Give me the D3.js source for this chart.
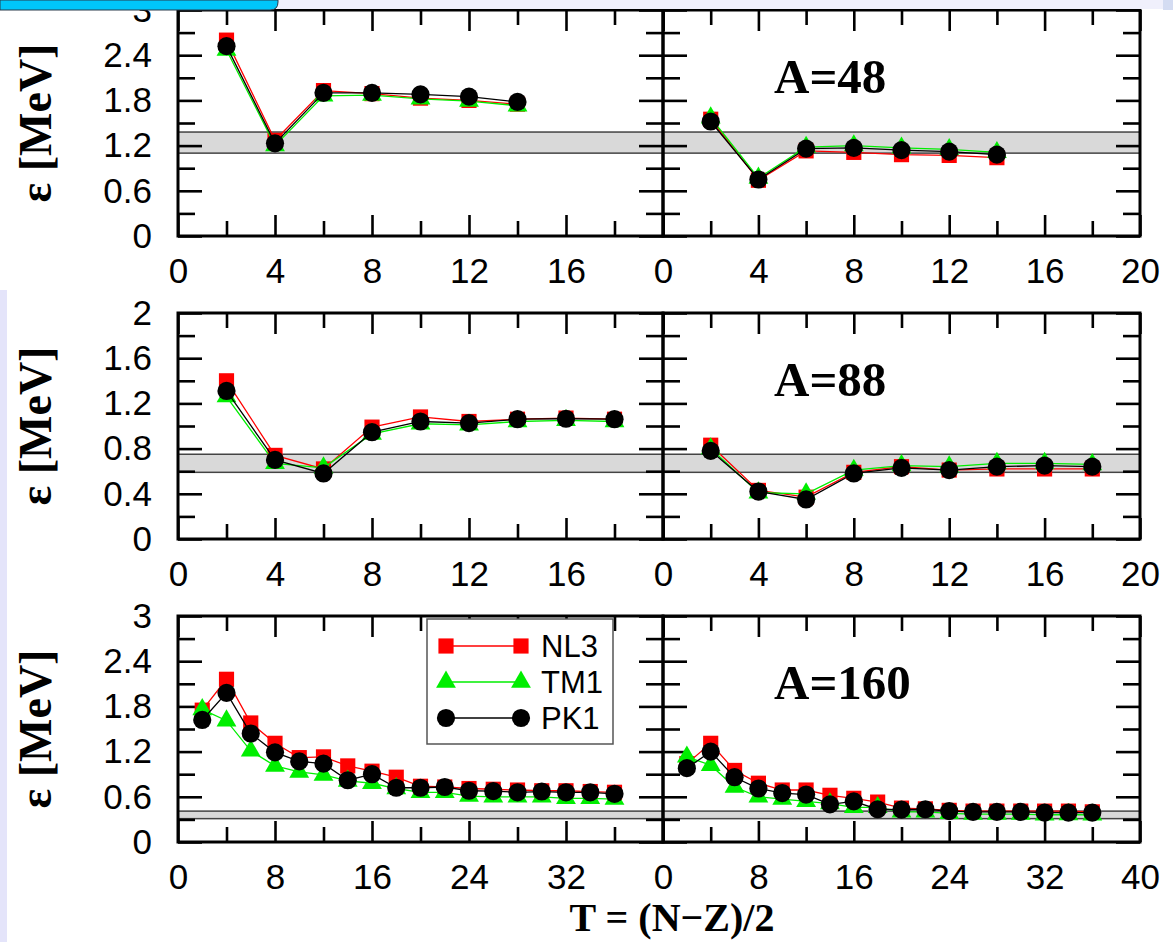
<!DOCTYPE html>
<html>
<head>
<meta charset="utf-8">
<script src="https://cdn.jsdelivr.net/npm/d3@7"></script>
<style>
  body { margin: 0; background: #fff; }
  svg { display: block; }
</style>
</head>
<body>
<script>
// isospin T values for the three mass regions
const t48 = [2, 4, 6, 8, 10, 12, 14]
const t88 = [2, 4, 6, 8, 10, 12, 14, 16, 18]
const t160 = [2, 4, 6, 8, 10, 12, 14, 16, 18, 20, 22, 24, 26, 28, 30, 32, 34, 36]

// A=48, left / right panel
const nl3_48a = [2.60, 1.27, 1.93, 1.89, 1.83, 1.80, 1.75]
const tm1_48a = [2.47, 1.20, 1.86, 1.87, 1.82, 1.79, 1.73]
const pk1_48a = [2.52, 1.23, 1.90, 1.90, 1.88, 1.85, 1.78]
const nl3_48b = [1.55, 0.74, 1.13, 1.11, 1.08, 1.07, 1.04]
const tm1_48b = [1.57, 0.77, 1.18, 1.20, 1.17, 1.15, 1.11]
const pk1_48b = [1.52, 0.75, 1.16, 1.17, 1.14, 1.12, 1.08]

// A=88
const nl3_88a = [1.40, 0.74, 0.62, 0.99, 1.08, 1.04, 1.06, 1.07, 1.06]
const tm1_88a = [1.26, 0.67, 0.63, 0.93, 1.02, 1.01, 1.04, 1.05, 1.04]
const pk1_88a = [1.31, 0.70, 0.58, 0.945, 1.04, 1.025, 1.06, 1.064, 1.06]
const nl3_88b = [0.83, 0.43, 0.37, 0.59, 0.64, 0.61, 0.62, 0.62, 0.62]
const tm1_88b = [0.80, 0.41, 0.40, 0.61, 0.65, 0.64, 0.67, 0.67, 0.66]
const pk1_88b = [0.78, 0.42, 0.35, 0.58, 0.63, 0.61, 0.64, 0.65, 0.64]

// A=160
const nl3_160a = [1.75, 2.16, 1.58, 1.31, 1.12, 1.13, 1.01, 0.94, 0.86, 0.74, 0.73, 0.71, 0.70, 0.69, 0.68, 0.68, 0.67, 0.66]
const tm1_160a = [1.76, 1.61, 1.21, 1.01, 0.93, 0.89, 0.81, 0.78, 0.71, 0.66, 0.66, 0.61, 0.60, 0.60, 0.60, 0.58, 0.58, 0.57]
const pk1_160a = [1.62, 1.98, 1.44, 1.19, 1.07, 1.04, 0.82, 0.90, 0.72, 0.72, 0.73, 0.68, 0.675, 0.66, 0.67, 0.66, 0.66, 0.64]
const nl3_160b = [1.04, 1.31, 0.95, 0.78, 0.69, 0.69, 0.62, 0.58, 0.53, 0.45, 0.44, 0.42, 0.41, 0.41, 0.41, 0.41, 0.41, 0.40]
const tm1_160b = [1.13, 1.02, 0.73, 0.60, 0.57, 0.54, 0.51, 0.46, 0.46, 0.40, 0.40, 0.38, 0.37, 0.37, 0.37, 0.36, 0.365, 0.36]
const pk1_160b = [0.98, 1.20, 0.86, 0.71, 0.65, 0.63, 0.50, 0.54, 0.435, 0.43, 0.435, 0.41, 0.40, 0.40, 0.40, 0.39, 0.39, 0.39]

const massLabels = ['A=48', 'A=88', 'A=160']
const seriesNames = ['NL3', 'TM1', 'PK1']
const bandLow = [1.10, 0.59, 0.31]
const bandHigh = [1.38, 0.75, 0.41]
const yMax = [3, 2, 3]
const yStep = [0.6, 0.4, 0.6]
const xMax = [20, 20, 40]
const xStep = [4, 4, 8]

const rows = [
  { t: t48, left: [nl3_48a, tm1_48a, pk1_48a], right: [nl3_48b, tm1_48b, pk1_48b] },
  { t: t88, left: [nl3_88a, tm1_88a, pk1_88a], right: [nl3_88b, tm1_88b, pk1_88b] },
  { t: t160, left: [nl3_160a, tm1_160a, pk1_160a], right: [nl3_160b, tm1_160b, pk1_160b] }
]

const W = 1173, H = 942
const colX = [[178, 663], [663, 1140]]
const rowTop = [10, 313, 616]
const panelH = 226

const colors = ['#ff0000', '#00ee00', '#000000']
const symbols = [d3.symbolSquare, d3.symbolTriangle, d3.symbolCircle]
const symSize = [230, 170, 260]

const sansFont = '"Liberation Sans", Arial, sans-serif'
const serifFont = '"Liberation Serif", "Times New Roman", serif'

const svg = d3.select('body').append('svg')
  .attr('width', W)
  .attr('height', H)

svg.append('rect').attr('width', W).attr('height', H).attr('fill', '#fff')

function steps(max, step) {
  let n = Math.round(max / step)
  return d3.range(0, n + 1).map(i => +(i * step).toFixed(2))
}

function fmt(d) {
  return Number.isInteger(d) ? String(d) : d.toFixed(1)
}

function styleAxis(g) {
  g.select('.domain').remove()
  g.selectAll('line').attr('stroke', '#000').attr('stroke-width', 2.6)
  g.selectAll('text').attr('font-family', sansFont).attr('font-size', 35).attr('fill', '#000')
}

rows.forEach((row, r) => {
  let top = rowTop[r], bottom = top + panelH
  let y = d3.scaleLinear().domain([0, yMax[r]]).range([bottom, top])
  let yMajor = steps(yMax[r], yStep[r])
  let yMinor = steps(yMax[r], yStep[r] / 2).filter(v => !yMajor.includes(v))
  let xMajor = steps(xMax[r], xStep[r])
  let xMinor = steps(xMax[r], xStep[r] / 2).filter(v => !xMajor.includes(v))

  // gray reference band across both panels
  svg.append('rect')
    .attr('x', colX[0][0])
    .attr('width', colX[1][1] - colX[0][0])
    .attr('y', y(bandHigh[r]))
    .attr('height', y(bandLow[r]) - y(bandHigh[r]))
    .attr('fill', '#d9d9d9')
    .attr('stroke', '#444')
    .attr('stroke-width', 1.5)

  ;[row.left, row.right].forEach((series, c) => {
    let x = d3.scaleLinear().domain([0, xMax[r]]).range(colX[c])
    let g = svg.append('g')

    // ticks: bottom (with labels), top, left, right
    g.append('g').attr('transform', `translate(0,${bottom})`)
      .call(d3.axisBottom(x).tickValues(xMinor).tickSize(-15).tickFormat(''))
      .call(styleAxis)
    g.append('g').attr('transform', `translate(0,${bottom})`)
      .call(d3.axisBottom(x).tickValues(xMajor).tickSize(-21).tickPadding(22)
        .tickFormat(d => (c === 0 && d === xMax[r]) ? '' : fmt(d)))
      .call(styleAxis)
    g.append('g').attr('transform', `translate(0,${top})`)
      .call(d3.axisTop(x).tickValues(xMinor).tickSize(-15).tickFormat(''))
      .call(styleAxis)
    g.append('g').attr('transform', `translate(0,${top})`)
      .call(d3.axisTop(x).tickValues(xMajor).tickSize(-21).tickFormat(''))
      .call(styleAxis)
    g.append('g').attr('transform', `translate(${colX[c][0]},0)`)
      .call(d3.axisLeft(y).tickValues(yMinor).tickSize(-17).tickFormat(''))
      .call(styleAxis)
    g.append('g').attr('transform', `translate(${colX[c][0]},0)`)
      .call(d3.axisLeft(y).tickValues(yMajor).tickSize(-24).tickPadding(26)
        .tickFormat(d => c === 0 ? fmt(d) : ''))
      .call(styleAxis)
    g.append('g').attr('transform', `translate(${colX[c][1]},0)`)
      .call(d3.axisRight(y).tickValues(yMinor).tickSize(-17).tickFormat(''))
      .call(styleAxis)
    g.append('g').attr('transform', `translate(${colX[c][1]},0)`)
      .call(d3.axisRight(y).tickValues(yMajor).tickSize(-24).tickFormat(''))
      .call(styleAxis)

    // data
    let line = d3.line().x((d, i) => x(row.t[i])).y(d => y(d))
    series.forEach((vals, s) => {
      g.append('path')
        .attr('d', line(vals))
        .attr('fill', 'none')
        .attr('stroke', colors[s])
        .attr('stroke-width', 1.3)
      g.selectAll(null).data(vals).enter().append('path')
        .attr('transform', (d, i) => `translate(${x(row.t[i])},${y(d)})`)
        .attr('d', d3.symbol().type(symbols[s]).size(symSize[s]))
        .attr('fill', colors[s])
    })

    g.append('rect')
      .attr('x', colX[c][0]).attr('y', top)
      .attr('width', colX[c][1] - colX[c][0]).attr('height', panelH)
      .attr('fill', 'none').attr('stroke', '#000').attr('stroke-width', 3)

    if (c === 1) {
      g.append('text')
        .attr('x', colX[1][0] + 111)
        .attr('y', top + 83)
        .attr('font-family', serifFont)
        .attr('font-weight', 'bold')
        .attr('font-size', 49)
        .text(massLabels[r])
    }
  })

  // y axis title
  svg.append('text')
    .attr('transform', `translate(51,${(top + bottom) / 2}) rotate(-90)`)
    .attr('text-anchor', 'middle')
    .attr('font-family', serifFont)
    .attr('font-weight', 'bold')
    .attr('font-size', 46)
    .text('ε [MeV]')
})

// legend in lower-left panel
let lg = svg.append('g')
lg.append('rect')
  .attr('x', 427).attr('y', 619).attr('width', 186).attr('height', 125)
  .attr('fill', '#fff').attr('stroke', '#555').attr('stroke-width', 1.5)
seriesNames.forEach((name, s) => {
  let ly = 646 + s * 36
  lg.append('line')
    .attr('x1', 446).attr('x2', 521).attr('y1', ly).attr('y2', ly)
    .attr('stroke', colors[s]).attr('stroke-width', 1.3)
  ;[446, 521].forEach(lx => {
    lg.append('path')
      .attr('transform', `translate(${lx},${ly})`)
      .attr('d', d3.symbol().type(symbols[s]).size(symSize[s]))
      .attr('fill', colors[s])
  })
  lg.append('text')
    .attr('x', 541).attr('y', ly)
    .attr('dy', '0.36em')
    .attr('font-family', sansFont)
    .attr('font-size', 31)
    .text(name)
})

// x axis title
svg.append('text')
  .attr('x', 672).attr('y', 931)
  .attr('text-anchor', 'middle')
  .attr('font-family', serifFont)
  .attr('font-weight', 'bold')
  .attr('font-size', 40)
  .text('T = (N−Z)/2')

// slide frame leftovers: top strip, blue tab, left strip
svg.append('rect').attr('x', 0).attr('y', 0).attr('width', W).attr('height', 9).attr('fill', '#f0f0fc')
svg.append('rect').attr('x', 1163).attr('y', 0).attr('width', 10).attr('height', 10).attr('fill', '#d4dcf2')
svg.append('path')
  .attr('d', 'M0,0 H278 V2 Q278,10 270,10 H0 Z')
  .attr('fill', '#00c6fa')
  .attr('stroke', '#2a3a4a')
  .attr('stroke-width', 1)
svg.append('rect').attr('x', 0).attr('y', 290).attr('width', 7).attr('height', H - 290).attr('fill', '#e4e4fa')
</script>
</body>
</html>
